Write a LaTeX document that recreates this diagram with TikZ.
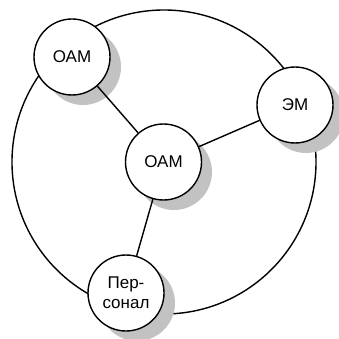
\documentclass[tikz,border=0pt]{standalone}
\usepackage{fontspec}
\setmainfont{Liberation Sans}
\begin{document}
\begin{tikzpicture}[x=1pt,y=-1pt,
  ring/.style={draw=black,line width=1.4pt},
  unit/.style={circle,draw=black,line width=1.4pt,fill=white,minimum size=76pt,inner sep=0pt,
    font=\fontsize{17}{20}\selectfont,align=center},
  shade/.style={circle,fill=black!24,minimum size=76pt,inner sep=0pt},
  link/.style={draw=black,line width=1.4pt}]
\useasboundingbox (0,0) rectangle (338,339);
% outer ring
\draw[ring] (164,162) circle (152);
% drop shadows
\node[shade] at (83,67) {};
\node[shade] at (174,172) {};
\node[shade] at (306,115) {};
\node[shade] at (137,303) {};
% units
\node[unit] (oam1) at (72,57) {ОАМ};
\node[unit] (oam2) at (163.5,162) {ОАМ};
\node[unit] (em) at (295,105) {ЭМ};
\node[unit] (pers) at (126,293) {Пер-\\сонал};
% connectors
\draw[link] (oam1) -- (oam2);
\draw[link] (oam2) -- (em);
\draw[link] (oam2) -- (pers);
\end{tikzpicture}
\end{document}
